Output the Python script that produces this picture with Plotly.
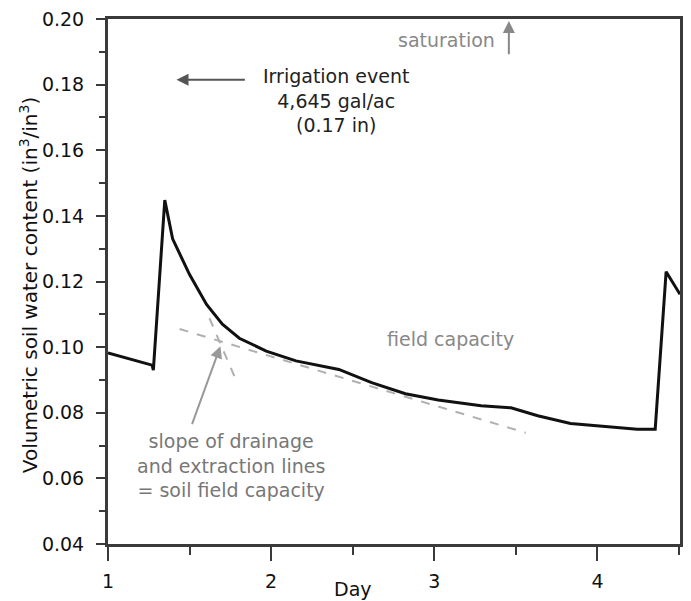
import plotly.graph_objects as go

# Soil water content time series (day, volumetric content)
days = [1.0, 1.27, 1.278, 1.348, 1.396, 1.50, 1.604, 1.701, 1.805, 1.97, 2.152, 2.415,
        2.616, 2.823, 3.024, 3.287, 3.47, 3.634, 3.835, 4.043, 4.244, 4.354, 4.421, 4.506]
swc = [0.0982, 0.0945, 0.0930, 0.1448, 0.1330, 0.1221, 0.1130, 0.1070, 0.1027, 0.0988, 0.0958, 0.0932,
       0.0892, 0.0858, 0.0839, 0.0821, 0.0815, 0.0791, 0.0767, 0.0758, 0.0750, 0.0750, 0.1230, 0.1161]

# Dashed tangent lines (drainage / extraction slopes)
drain_x = [1.439, 3.561]
drain_y = [0.1055, 0.0739]
extract_x = [1.622, 1.787]
extract_y = [0.1088, 0.0897]

x_ticks = [1, 2, 3, 4]
y_ticks = [0.04, 0.06, 0.08, 0.10, 0.12, 0.14, 0.16, 0.18, 0.20]

FONT = "DejaVu Sans"
AX = "#3a3a3a"

fig = go.Figure()
fig.add_trace(go.Scatter(x=drain_x, y=drain_y, mode="lines",
                         line=dict(color="#b0b0b0", width=2, dash="dash"), hoverinfo="skip"))
fig.add_trace(go.Scatter(x=extract_x, y=extract_y, mode="lines",
                         line=dict(color="#b0b0b0", width=2, dash="dash"), hoverinfo="skip"))
fig.add_trace(go.Scatter(x=days, y=swc, mode="lines",
                         line=dict(color="#111111", width=3)))

fig.update_layout(
    width=691, height=601,
    margin=dict(l=108, r=8, t=16, b=57),
    paper_bgcolor="white", plot_bgcolor="white",
    showlegend=False,
    font=dict(family=FONT, size=19, color="#111111"),
)
fig.update_xaxes(
    range=[1, 4.506], tickvals=x_ticks, ticktext=[str(v) for v in x_ticks],
    showgrid=False, zeroline=False,
    showline=True, linewidth=3, linecolor=AX, mirror=True,
    ticks="outside", ticklen=14, tickwidth=2, tickcolor=AX,
    minor=dict(ticks="outside", ticklen=8, tickwidth=2, tickcolor=AX, dtick=0.5, tick0=1, showgrid=False),
    tickfont=dict(family=FONT, size=19, color="#111111"),
    ticklabelstandoff=4,
)
fig.update_yaxes(
    range=[0.04, 0.20], tickvals=y_ticks, tickformat=".2f",
    showgrid=False, zeroline=False,
    showline=True, linewidth=3, linecolor=AX, mirror=True,
    ticks="outside", ticklen=9, tickwidth=2, tickcolor=AX,
    minor=dict(ticks="outside", ticklen=6, tickwidth=2, tickcolor=AX, dtick=0.01, tick0=0.04, showgrid=False),
    tickfont=dict(family=FONT, size=19, color="#111111"),
    ticklabelstandoff=8,
)

# Y axis title as annotation
fig.add_annotation(text="Volumetric soil water content (in<sup>3</sup>/in<sup>3</sup>)",
                   xref="paper", yref="paper", x=-0.139, y=0.494, textangle=-90,
                   showarrow=False, xanchor="center", yanchor="middle",
                   font=dict(family=FONT, size=20, color="#111111"))
# X axis title
fig.add_annotation(text="Day", xref="x", yref="paper", x=2.5, y=-0.085,
                   showarrow=False, xanchor="center", yanchor="middle",
                   font=dict(family=FONT, size=19, color="#111111"))

# Irrigation event
fig.add_annotation(text="Irrigation event<br>4,645 gal/ac<br>(0.17 in)",
                   x=2.396, y=0.1752, showarrow=False, xanchor="center", yanchor="middle",
                   font=dict(family=FONT, size=19, color="#222222"))
fig.add_annotation(x=1.42, y=0.1815, ax=1.848, ay=0.1815, axref="x", ayref="y",
                   text="", showarrow=True, arrowhead=2, arrowsize=1.2, arrowwidth=2, arrowcolor="#555555")

# Saturation
fig.add_annotation(text="saturation", x=3.073, y=0.1936, showarrow=False,
                   xanchor="center", yanchor="middle", font=dict(family=FONT, size=19, color="#888888"))
fig.add_annotation(x=3.457, y=0.1994, ax=3.457, ay=0.1888, axref="x", ayref="y",
                   text="", showarrow=True, arrowhead=2, arrowsize=1.2, arrowwidth=2, arrowcolor="#888888")

# Field capacity
fig.add_annotation(text="field capacity", x=3.098, y=0.1024, showarrow=False,
                   xanchor="center", yanchor="middle", font=dict(family=FONT, size=19, color="#888888"))

# Slope text and arrow
fig.add_annotation(text="slope of drainage<br>and extraction lines<br>= soil field capacity",
                   x=1.756, y=0.0639, showarrow=False, xanchor="center", yanchor="middle",
                   font=dict(family=FONT, size=19, color="#777777"))
fig.add_annotation(x=1.689, y=0.1003, ax=1.512, ay=0.0761, axref="x", ayref="y",
                   text="", showarrow=True, arrowhead=2, arrowsize=1.2, arrowwidth=2, arrowcolor="#999999")

fig.write_html("out.html")
